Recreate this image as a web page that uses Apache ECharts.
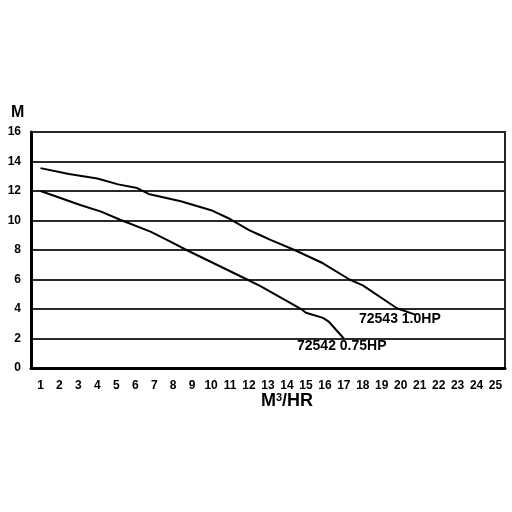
<!DOCTYPE html>
<html><head><meta charset="utf-8">
<script src="https://cdn.jsdelivr.net/npm/echarts@6/dist/echarts.min.js"></script>
<style>html,body{margin:0;padding:0;background:#fff}#c{width:512px;height:512px}</style>
</head><body><div id="c"></div>
<script>
const xTicks = [1,2,3,4,5,6,7,8,9,10,11,12,13,14,15,16,17,18,19,20,21,22,23,24,25];
const yTicks = [0,2,4,6,8,10,12,14,16];
const hp10X = [1, 2.5, 4.0, 5.1, 6.1, 6.7, 8.4, 10.0, 11.0, 12.0, 12.6, 13.1, 14.4, 15.9, 17.3, 18.0, 19.8, 20.8];
const hp10Y = [13.55, 13.15, 12.85, 12.45, 12.2, 11.8, 11.3, 10.7, 10.1, 9.35, 9.0, 8.7, 8.0, 7.1, 6.0, 5.6, 4.05, 3.6];
const hp075X = [1, 3.1, 4.2, 5.2, 6.8, 7.8, 8.7, 11.9, 12.6, 14.8, 15.0, 15.9, 16.2, 17.0];
const hp075Y = [12.0, 11.05, 10.6, 10.05, 9.25, 8.6, 8.0, 6.0, 5.55, 3.95, 3.75, 3.4, 3.15, 2.0];
const labels = ['72543 1.0HP', '72542 0.75HP'];

const chart = echarts.init(document.getElementById('c'));
const font = 'Liberation Sans, Arial, sans-serif';
chart.setOption({
  animation: false,
  grid: {left: 31, right: 7, top: 132, bottom: 144, show: true, borderColor: '#222', borderWidth: 2},
  xAxis: {
    type: 'value', min: 0.5, max: 25.5,
    axisLine: {show: true, onZero: false, lineStyle: {color: '#000', width: 3}},
    axisTick: {show: false},
    splitLine: {show: false},
    axisLabel: {customValues: xTicks, color: '#000', fontWeight: 'bold', fontSize: 12, fontFamily: font, margin: 12}
  },
  yAxis: {
    type: 'value', min: 0, max: 16, interval: 2,
    axisLine: {show: true, lineStyle: {color: '#000', width: 3}},
    axisTick: {show: false},
    splitLine: {show: true, lineStyle: {color: '#2a2a2a', width: 2}},
    axisLabel: {color: '#000', fontWeight: 'bold', fontSize: 12, fontFamily: font, margin: 10}
  },
  series: [
    {type: 'line', data: hp10X.map((x, i) => [x, hp10Y[i]]), showSymbol: false, lineStyle: {color: '#000', width: 2}},
    {type: 'line', data: hp075X.map((x, i) => [x, hp075Y[i]]), showSymbol: false, lineStyle: {color: '#000', width: 2}}
  ],
  graphic: [
    {type: 'text', left: 11, top: 105, style: {text: 'M', font: 'bold 16px ' + font, fill: '#000'}},
    {type: 'text', left: 261, top: 392, style: {text: 'M{s|3}/HR', font: 'bold 18px ' + font, fill: '#000',
      rich: {s: {font: 'bold 11px ' + font, fill: '#000', verticalAlign: 'top', padding: [0, 0, 8, 0]}}}},
    {type: 'text', left: 359, top: 312, style: {text: labels[0], font: 'bold 14px ' + font, fill: '#000'}},
    {type: 'text', left: 297, top: 339, style: {text: labels[1], font: 'bold 14px ' + font, fill: '#000'}}
  ]
});
</script></body></html>
